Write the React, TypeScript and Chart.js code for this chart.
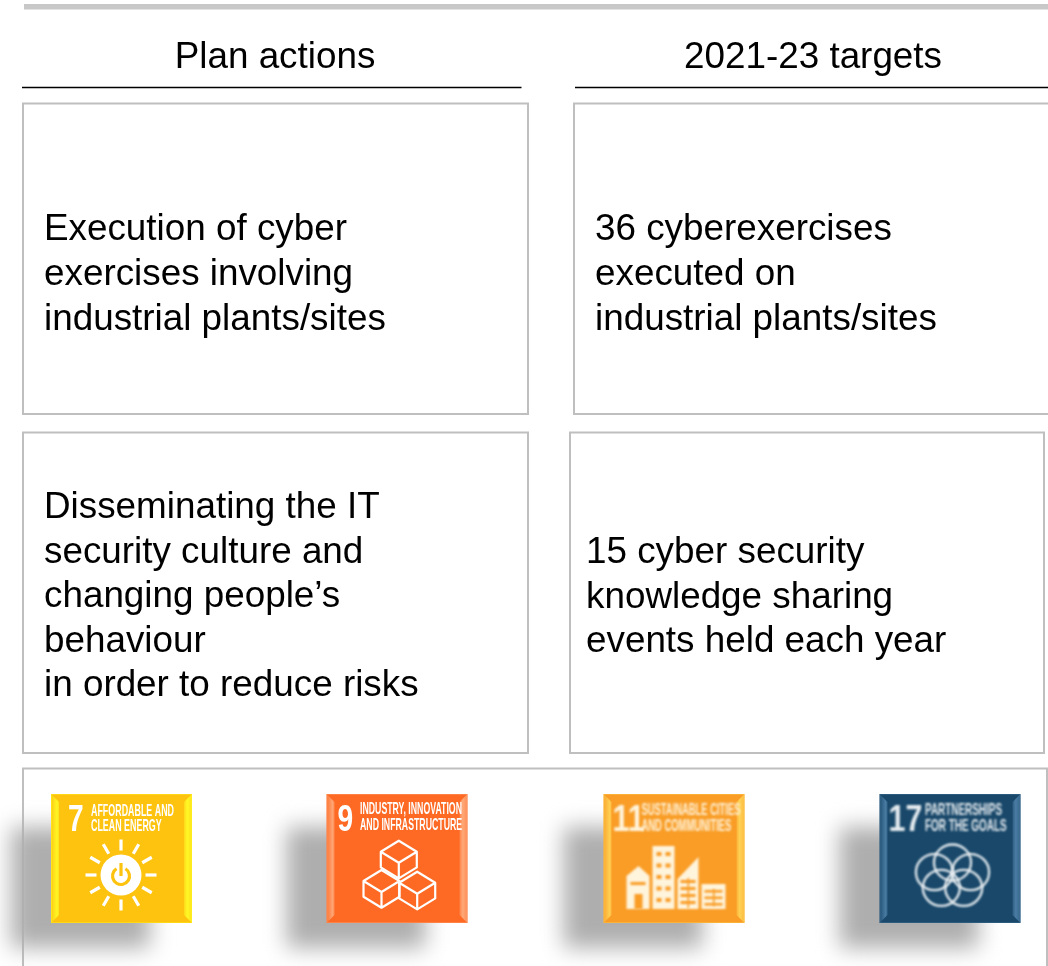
import React, { useEffect, useRef } from "react";
import { Chart, registerables } from "chart.js";

Chart.register(...registerables);

const headers = ["Plan actions", "2021-23 targets"];
const action1 = ["Execution of cyber", "exercises involving", "industrial plants/sites"];
const target1 = ["36 cyberexercises", "executed on", "industrial plants/sites"];
const action2 = ["Disseminating the IT", "security culture and", "changing people\u2019s", "behaviour", "in order to reduce risks"];
const target2 = ["15 cyber security", "knowledge sharing", "events held each year"];
const sdgNumbers = ["7", "9", "11", "17"];
const sdgLabels = [
  ["AFFORDABLE AND", "CLEAN ENERGY"],
  ["INDUSTRY, INNOVATION", "AND INFRASTRUCTURE"],
  ["SUSTAINABLE CITIES", "AND COMMUNITIES"],
  ["PARTNERSHIPS", "FOR THE GOALS"],
];
const sdgColors = ["#fdc30f", "#fe6a24", "#f99d26", "#19486a"];
const sdgBevels = ["255,255,40", "255,175,130", "255,215,90", "80,130,170"];

const FONT = '"Liberation Sans", Arial, sans-serif';
const NARROW = '"Liberation Sans Narrow", "Liberation Sans", sans-serif';
const TILE_W = 141;
const TILE_H = 129;
const tileX = [51, 326.5, 603.5, 879.5];
const tileY = 794;

type C = CanvasRenderingContext2D;

function cube(ctx: C, x: number, y: number) {
  const w = 18, d = 11, v = 15.7;
  ctx.beginPath();
  ctx.moveTo(x, y);
  ctx.lineTo(x + w, y + d);
  ctx.lineTo(x + w, y + d + v);
  ctx.lineTo(x, y + 2 * d + v);
  ctx.lineTo(x - w, y + d + v);
  ctx.lineTo(x - w, y + d);
  ctx.closePath();
  ctx.moveTo(x - w, y + d);
  ctx.lineTo(x, y + 2 * d);
  ctx.lineTo(x + w, y + d);
  ctx.moveTo(x, y + 2 * d);
  ctx.lineTo(x, y + 2 * d + v);
  ctx.stroke();
}

function sun(ctx: C, color: string) {
  const cx = 70, cy = 81;
  ctx.strokeStyle = "#fff";
  ctx.lineWidth = 3.2;
  for (let i = 0; i < 12; i++) {
    const a = (i * Math.PI) / 6;
    ctx.beginPath();
    ctx.moveTo(cx + 24.5 * Math.cos(a), cy + 24.5 * Math.sin(a));
    ctx.lineTo(cx + 35.5 * Math.cos(a), cy + 35.5 * Math.sin(a));
    ctx.stroke();
  }
  ctx.fillStyle = "#fff";
  ctx.beginPath();
  ctx.arc(cx, cy, 20.5, 0, Math.PI * 2);
  ctx.fill();
  ctx.strokeStyle = color;
  ctx.lineWidth = 3.2;
  ctx.beginPath();
  ctx.arc(cx, cy + 1, 8.5, -Math.PI / 2 + 0.55, -Math.PI / 2 - 0.55 + Math.PI * 2);
  ctx.stroke();
  ctx.beginPath();
  ctx.moveTo(cx, cy - 12);
  ctx.lineTo(cx, cy + 1);
  ctx.stroke();
}

function cubes(ctx: C) {
  ctx.strokeStyle = "#fff";
  ctx.lineWidth = 2.2;
  ctx.lineJoin = "round";
  cube(ctx, 72.3, 46.7);
  cube(ctx, 55, 76);
  cube(ctx, 90.7, 77.7);
}

function city(ctx: C, color: string) {
  const cream = "#fff4dc";
  ctx.fillStyle = cream;
  ctx.beginPath();
  ctx.moveTo(23, 82);
  ctx.lineTo(35, 72);
  ctx.lineTo(46, 82);
  ctx.lineTo(46, 115);
  ctx.lineTo(23, 115);
  ctx.closePath();
  ctx.fill();
  ctx.fillRect(49, 52, 22, 63);
  ctx.beginPath();
  ctx.moveTo(74, 115);
  ctx.lineTo(74, 85);
  ctx.lineTo(95, 63);
  ctx.lineTo(95, 115);
  ctx.closePath();
  ctx.fill();
  ctx.fillRect(98, 90, 24, 25);
  ctx.fillStyle = color;
  ctx.fillRect(31, 100, 8, 15);
  ctx.fillRect(27, 88, 15, 3);
  for (let r = 0; r < 5; r++) {
    ctx.fillRect(53, 58 + r * 11.5, 5, 4);
    ctx.fillRect(62, 58 + r * 11.5, 5, 4);
  }
  for (let r = 0; r < 4; r++) {
    ctx.fillRect(77, 86 + r * 7, 15, 3);
    if (r < 3) ctx.fillRect(101, 96 + r * 6.5, 18, 2.6);
  }
  ctx.fillRect(84, 84, 1.6, 30);
  ctx.fillRect(109.5, 95, 1.6, 17);
}

function flower(ctx: C) {
  const cx = 73, cy = 81;
  ctx.strokeStyle = "#e6ecf0";
  ctx.lineWidth = 2.3;
  for (let i = 0; i < 5; i++) {
    const a = -Math.PI / 2 + (i * 2 * Math.PI) / 5;
    ctx.beginPath();
    ctx.ellipse(cx + 19 * Math.cos(a), cy + 1.5 + 14 * Math.sin(a), 18.5, 18, 0, 0, Math.PI * 2);
    ctx.stroke();
  }
}

function drawTile(ctx: C, idx: number, x0: number, y0: number, x1: number, y1: number) {
  const color = sdgColors[idx];
  const bevel = sdgBevels[idx];
  const w = x1 - x0, h = y1 - y0;
  ctx.save();
  ctx.filter = "blur(11px)";
  ctx.fillStyle = "#aeaeae";
  ctx.fillRect(x0 - 40, y0 + 33, w - 2, h - 8);
  ctx.restore();

  ctx.save();
  ctx.translate(x0, y0);
  ctx.fillStyle = color;
  ctx.fillRect(0, 0, w, h);
  const b = 8;
  const lg = ctx.createLinearGradient(0, 0, b, 0);
  lg.addColorStop(0, `rgba(${bevel},0.15)`);
  lg.addColorStop(0.75, `rgba(${bevel},0.85)`);
  lg.addColorStop(1, `rgba(${bevel},0.5)`);
  ctx.fillStyle = lg;
  ctx.beginPath();
  ctx.moveTo(0, 0); ctx.lineTo(b, b); ctx.lineTo(b, h - b); ctx.lineTo(0, h);
  ctx.closePath(); ctx.fill();
  const rg = ctx.createLinearGradient(w, 0, w - b, 0);
  rg.addColorStop(0, `rgba(${bevel},0.5)`);
  rg.addColorStop(0.6, `rgba(${bevel},0.9)`);
  rg.addColorStop(1, `rgba(${bevel},0.35)`);
  ctx.fillStyle = rg;
  ctx.beginPath();
  ctx.moveTo(w, 0); ctx.lineTo(w - b, b); ctx.lineTo(w - b, h - b); ctx.lineTo(w, h);
  ctx.closePath(); ctx.fill();
  ctx.strokeStyle = `rgba(${bevel},0.35)`;
  ctx.lineWidth = 1;
  ctx.strokeRect(0.5, 0.5, w - 1, h - 1);

  ctx.filter = idx >= 2 ? "blur(0.9px)" : "blur(0.5px)";
  const cream = idx === 2 ? "#fff4dc" : idx === 3 ? "#e6ecf0" : "#fff";
  ctx.fillStyle = cream;
  ctx.textBaseline = "alphabetic";
  ctx.textAlign = "left";
  const num = sdgNumbers[idx];
  const numX = idx === 0 ? 17 : idx === 1 ? 11 : 9;
  ctx.save();
  ctx.translate(numX, 37);
  ctx.scale(idx >= 2 ? 0.95 : 0.88, 1.18);
  ctx.font = `bold 32px ${NARROW}`;
  ctx.fillText(num, 0, 0);
  ctx.restore();
  const lines = sdgLabels[idx];
  const lx = [40, 33.5, 38, 45.5][idx];
  const firstBase = [21.5, 19.5, 21, 21][idx];
  const step = [15.5, 16.5, 16, 16][idx];
  const widths = [83, 102, 99, 77];
  lines.forEach((line, i) => {
    ctx.font = `bold 13px ${NARROW}`;
    const full = ctx.measureText(lines[0]).width;
    ctx.save();
    ctx.translate(lx, firstBase + i * step);
    ctx.scale(widths[idx] / full, 1.22);
    ctx.fillText(line, 0, 0);
    ctx.restore();
  });
  if (idx === 0) sun(ctx, color);
  if (idx === 1) cubes(ctx);
  if (idx === 2) city(ctx, color);
  if (idx === 3) flower(ctx);
  ctx.restore();
}

const slidePlugin = {
  id: "slide",
  beforeDatasetsDraw(chart: any) {
    const ctx: C = chart.ctx;
    const X = (v: number) => chart.scales.x.getPixelForValue(v);
    const Y = (v: number) => chart.scales.y.getPixelForValue(v);
    const box = (a: number, b: number, c: number, d: number) => {
      ctx.strokeStyle = "#bfbfbf";
      ctx.lineWidth = 2;
      ctx.strokeRect(X(a), Y(b), X(c) - X(a), Y(d) - Y(b));
    };
    const rule = (a: number, c: number, y: number) => {
      ctx.strokeStyle = "#000";
      ctx.lineWidth = 1.6;
      ctx.beginPath();
      ctx.moveTo(X(a), Y(y));
      ctx.lineTo(X(c), Y(y));
      ctx.stroke();
    };
    const para = (lines: string[], x: number, first: number, step: number) => {
      ctx.fillStyle = "#000";
      ctx.font = `36.85px ${FONT}`;
      ctx.textAlign = "left";
      ctx.textBaseline = "alphabetic";
      lines.forEach((l, i) => ctx.fillText(l, X(x), Y(first + i * step)));
    };
    ctx.save();
    ctx.fillStyle = "#c8c8c8";
    ctx.fillRect(X(24), Y(4), X(1048) - X(24), Y(9.5) - Y(4));
    ctx.fillStyle = "#000";
    ctx.font = `36.85px ${FONT}`;
    ctx.textAlign = "center";
    ctx.textBaseline = "alphabetic";
    ctx.fillText(headers[0], X(275), Y(68));
    ctx.fillText(headers[1], X(813), Y(68));
    rule(22, 521.5, 87.5);
    rule(575, 1048, 87.5);
    box(23, 103.5, 528, 414);
    box(574, 103.5, 1052, 414);
    box(23, 432.5, 528, 753);
    box(570, 432.5, 1044, 753);
    box(23, 768.5, 1047, 972);
    para(action1, 44, 240, 45);
    para(target1, 595, 240, 45);
    para(action2, 44, 518, 44.5);
    para(target2, 586, 563, 44.5);
    tileX.forEach((x, i) => drawTile(ctx, i, X(x), Y(tileY), X(x + TILE_W), Y(tileY + TILE_H)));
    ctx.restore();
  },
};

export default function App() {
  const ref = useRef<HTMLCanvasElement>(null);
  useEffect(() => {
    const chart = new Chart(ref.current as HTMLCanvasElement, {
      type: "scatter",
      data: { datasets: [{ data: [], pointRadius: 0 }] },
      options: {
        responsive: false,
        animation: false,
        layout: { padding: 0 },
        plugins: { legend: { display: false }, tooltip: { enabled: false }, title: { display: false } },
        scales: {
          x: { type: "linear", min: 0, max: 1048, display: false },
          y: { type: "linear", min: 0, max: 966, reverse: true, display: false },
        },
      },
      plugins: [slidePlugin],
    } as any);
    return () => chart.destroy();
  }, []);
  return (
    <div style={{ position: "absolute", left: 0, top: 0, width: 1048, height: 966, background: "#fff", overflow: "hidden" }}>
      <canvas ref={ref} width={1048} height={966} style={{ display: "block" }} />
    </div>
  );
}
